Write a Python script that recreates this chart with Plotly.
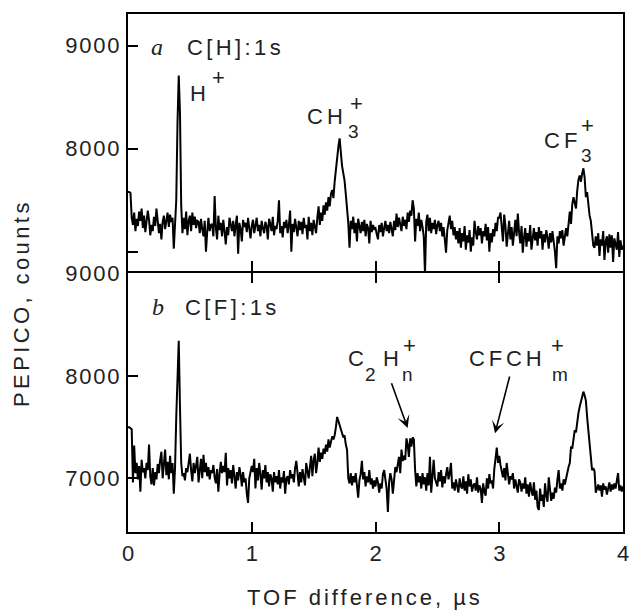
import plotly.graph_objects as go

# ---------------- data ----------------
tof_step_us = 0.01

counts_a = [
    7580, 7580, 7570, 7330, 7260, 7380, 7200, 7320, 7250, 7390,
    7300, 7420, 7230, 7350, 7190, 7280, 7400, 7310, 7160, 7260,
    7200, 7340, 7250, 7420, 7300, 7180, 7270, 7120, 7290, 7350,
    7220, 7330, 7380, 7240, 7360, 7290, 7330, 7030, 7250, 7500,
    8250, 8710, 8350, 7450, 7180, 7330, 7220, 7390, 7160, 7300,
    7350, 7200, 7380, 7260, 7340, 7230, 7300, 7290, 7180, 7320,
    7220, 7150, 7300, 7000, 7190, 7330, 7200, 7260, 7270, 7150,
    7540, 7230, 7120, 7350, 7210, 7280, 7150, 7310, 7200, 7070,
    7240, 7160, 7330, 7280, 7200, 7300, 7150, 7260, 7350, 6980,
    7280, 7220, 7100, 7310, 7240, 7280, 7190, 7330, 7250, 7130,
    7250, 7310, 7180, 7280, 7330, 7200, 7260, 7150, 7300, 7230,
    7180, 7290, 7250, 7120, 7320, 7270, 7200, 7340, 7160, 7250,
    7220, 7300, 7500, 7180, 7250, 7140, 7290, 7230, 7310, 7180,
    7260, 7400, 7000, 7270, 7190, 7320, 7240, 7150, 7300, 7210,
    7290, 7170, 7330, 7230, 7260, 7120, 7340, 7200, 7280, 7160,
    7310, 7230, 7180, 7330, 7440, 7260, 7380, 7300, 7450, 7360,
    7480, 7400, 7530, 7440, 7560, 7600, 7520, 7680, 7820, 7900,
    8020, 8100, 7950, 7830, 7760, 7690, 7560, 7450, 7280, 7040,
    7300, 7220, 7340, 7180, 7280, 7100, 7320, 7250, 7180, 7290,
    7200, 7310, 7150, 7270, 7230, 7080, 7300, 7190, 7260, 7220,
    7230, 7170, 7120, 7260, 7190, 7280, 7150, 7230, 7300, 7200,
    7260, 7180, 7290, 7220, 7150, 7300, 7210, 7370, 7240, 7330,
    7280, 7200, 7340, 7250, 7310, 7220, 7380, 7290, 7400, 7350,
    7500, 7420, 7100, 7320, 7250, 7380, 7200, 7310, 7240, 7150,
    6780, 7290, 7360, 7200, 7330, 7180, 7280, 7220, 7310, 7170,
    7260, 7300, 7200, 7280, 7150, 7240, 7120, 6990, 7210, 7280,
    7350, 7220, 7300, 7160, 7240, 7120, 7200, 7080, 7230, 7040,
    7180, 7100, 7250, 7020, 7160, 7090, 7210, 7000, 7140, 7060,
    7300, 7190, 7120, 7250, 7160, 7230, 7080, 7200, 7150, 7270,
    7110, 7240, 7000, 7180, 7090, 7220, 7150, 7280, 7200, 7330,
    7330, 7380, 7230, 7100, 7360, 7250, 7050, 7180, 7300, 7120,
    7240, 7060, 7200, 7310, 7150, 7370, 7190, 7080, 7250, 6990,
    7140, 7230, 7050, 7180, 7100, 7260, 7020, 7170, 7230, 7110,
    7190, 7060, 7240, 7130, 7200, 7020, 7170, 7090, 7210, 7140,
    7030, 7180, 7090, 7200, 7120, 7000, 6840, 7150, 7080, 7200,
    7130, 7210, 7060, 7180, 7230, 7150, 7310, 7390, 7270, 7460,
    7530, 7480, 7420, 7590, 7700, 7740, 7680, 7760, 7810, 7720,
    7530, 7580, 7440, 7350, 7300, 7180, 7060, 7040, 7150, 7060,
    7180, 6960, 7120, 7060, 7200, 6920, 7100, 7150, 6990, 7170,
    7040, 7160, 6900, 7130, 7080, 7020, 7190, 6950, 7110, 7020,
    7060,
]

counts_b = [
    7500, 7500, 7490, 7480, 6960, 7320, 7050, 7150, 6990, 7120,
    6870, 7180, 7060, 7100, 7000, 7150, 7080, 7330, 7020, 6940,
    7100, 6930, 7060, 6990, 7140, 7050, 7180, 7260, 7000, 7120,
    7280, 7030, 7160, 6990, 7220, 7050, 7150, 6850, 7100, 7600,
    8100, 8345, 7700, 7150, 7020, 7050, 6980, 7100, 7060, 7130,
    7240, 7080, 6970, 7150, 7050, 7120, 7210, 6960, 7080, 7190,
    7000, 7230, 7060, 7150, 7020, 7110, 6990, 7080, 7050, 7130,
    7010, 6950, 7090, 6870, 7040, 7160, 7050, 7120, 7060, 7250,
    6930, 7100, 7000, 7080, 6950, 7130, 7020, 6900, 7060, 6980,
    7110, 7040, 6920, 7060, 6960, 7000, 6850, 6760, 7000, 7080,
    7120, 7060, 7190, 6900, 7100, 6980, 7150, 7040, 6890, 7080,
    7000, 7130, 6960, 7060, 6920, 7040, 7000, 6870, 7060, 6960,
    7020, 6940, 7080, 6900, 7010, 6960, 7070, 6850, 7000, 7020,
    6940, 7080, 7000, 7040, 6960, 7100, 7170, 7050, 6920, 7060,
    6960, 7090, 7010, 6930, 7150, 7060, 7000, 7110, 7220, 7020,
    7180, 7240, 7050, 7150, 7300, 7160, 7250, 7190, 7290, 7240,
    7330, 7260, 7380, 7300, 7360, 7410, 7380, 7420, 7500, 7600,
    7560, 7510, 7460, 7440, 7400, 7420, 7330, 7280, 7000, 6950,
    7050, 6930, 7020, 6960, 7050, 6900, 6810, 6980, 7040, 7170,
    6990, 7060, 6920, 7020, 6960, 7080, 6940, 7000, 6900, 6980,
    6920, 7010, 6960, 6860, 6950, 6900, 7040, 7080, 6980, 6900,
    6670, 6960, 7050, 6990, 6850, 6960, 7110, 7060, 7140, 7210,
    7050, 7280, 7170, 7220, 7180, 7390, 7330, 7210, 7390, 7310,
    7400, 7380, 7080, 6920, 7050, 6960, 7020, 6900, 7050, 6940,
    7010, 6880, 7050, 6930, 7210, 6860, 7020, 7180, 7000, 6950,
    6920, 7060, 6970, 7080, 6910, 7020, 6950, 7040, 7110, 6990,
    7050, 7150, 6900, 6960, 6880, 6990, 6940, 6860, 7000, 6920,
    6900, 7020, 6880, 6970, 6850, 7040, 6920, 6990, 6870, 6930,
    6950, 6880, 7010, 6860, 6930, 6900, 6760, 6950, 6870, 6830,
    7000, 6900, 7040, 6950, 6980, 6900, 7090, 7200, 7300, 7150,
    7220, 7130, 7060, 7010, 7100, 6980, 7150, 7060, 6940, 7020,
    6990, 7050, 6900, 6990, 6930, 6860, 6990, 6960, 6870, 6950,
    6900, 7010, 6850, 6940, 6820, 6960, 6880, 6830, 6960, 6790,
    6880, 6720, 6690, 6900, 6780, 6840, 6720, 6950, 6830, 6770,
    7010, 6900, 6780, 6860, 6800, 6910, 6860, 6990, 7080, 6900,
    6950, 6880, 6990, 6940, 7010, 7050, 7110, 7150, 7310, 7290,
    7390, 7470, 7450, 7560, 7640, 7700, 7760, 7800, 7847, 7810,
    7760, 7600, 7480, 7300, 7180, 7080, 7100, 7070, 6860, 6900,
    6940, 6880, 6930, 6820, 6950, 6890, 6920, 6840, 6900, 6960,
    6870, 6940, 6890, 6950, 6900, 6960, 7050, 6880, 6930, 6870,
    6920,
]

tof_a = [round(i * tof_step_us, 2) for i in range(len(counts_a))]
tof_b = [round(i * tof_step_us, 2) for i in range(len(counts_b))]

x_ticks = [0, 1, 2, 3, 4]
x_ticklabels = ["0", "1", "2", "3", "4"]
y_ticks = [7000, 8000, 9000]
y_ticklabels_a = ["", "8000", "9000"]
y_ticklabels_b = ["7000", "8000", "9000"]

panel_a_title = "C[H]:1s"
panel_b_title = "C[F]:1s"
x_title = "TOF difference, µs"
y_title = "PEPICO, counts"

# ---------------- styling ----------------
FONT = "Liberation Sans, Arial, Helvetica, sans-serif"
SERIF = "Liberation Serif, Times New Roman, serif"
TXT = "#222222"


def sp(s, ls=3.4):
    """letter-spaced text without trailing space after the last glyph"""
    if not s:
        return ""
    if len(s) == 1:
        return s
    return f'<span style="letter-spacing:{ls}px">{s[:-1]}</span>{s[-1]}'


fig = go.Figure()
fig.add_trace(go.Scatter(x=tof_a, y=counts_a, mode="lines",
                         line=dict(color="black", width=2),
                         xaxis="x2", yaxis="y2", showlegend=False))
fig.add_trace(go.Scatter(x=tof_b, y=counts_b, mode="lines",
                         line=dict(color="black", width=2),
                         xaxis="x", yaxis="y", showlegend=False))

PLOT_H = 518.0
bot_top = (532 - 273) / PLOT_H
top_bot = (532 - 271) / PLOT_H
tickfont = dict(family=FONT, size=22, color=TXT)
common = dict(ticks="inside", ticklen=10, tickwidth=2, tickcolor="black",
              showline=True, linewidth=2, linecolor="black",
              showgrid=False, zeroline=False, automargin=False,
              ticklabeloverflow="allow")

fig.update_layout(
    width=629, height=610,
    margin=dict(l=128, r=6, t=14, b=78),
    paper_bgcolor="white", plot_bgcolor="white",
    font=dict(family=FONT, color=TXT),
    xaxis=dict(domain=[0, 1], range=[0, 4], anchor="y",
               tickvals=x_ticks, ticktext=x_ticklabels, mirror="ticks",
               tickfont=tickfont, ticklabelstandoff=1, **common),
    yaxis=dict(domain=[0, bot_top], range=[6475, 9007], anchor="x",
               tickvals=y_ticks, ticktext=[sp(t, 1.8) for t in y_ticklabels_b],
               mirror=True, tickfont=tickfont, ticklabelstandoff=2, **common),
    xaxis2=dict(domain=[0, 1], range=[0, 4], anchor="y2", matches="x",
                tickvals=x_ticks, showticklabels=False, mirror=True, **common),
    yaxis2=dict(domain=[top_bot, 1], range=[6813, 9308], anchor="x2",
                tickvals=y_ticks, ticktext=[sp(t, 1.8) for t in y_ticklabels_a],
                mirror=True, tickfont=tickfont, ticklabelstandoff=2, **common),
)

ann = []


def txt(x, y, text, ref, size=22, family=FONT, xanchor="center"):
    xr, yr = ref
    ann.append(dict(x=x, y=y, xref=xr, yref=yr, text=text, showarrow=False,
                    font=dict(family=family, size=size, color=TXT),
                    xanchor=xanchor, yanchor="middle"))


A = ("x2", "y2")
B = ("x", "y")

# panel a labels
txt(0.238, 8990, "<i>a</i>", A, size=24, family=SERIF)
txt(0.46, 8981, sp(panel_a_title), A, xanchor="left")
txt(0.562, 8538, "H", A)
txt(0.731, 8690, "+", A, size=22)
txt(1.592, 8311, sp("CH", 4), A)
txt(1.826, 8165, "3", A, size=19)
txt(1.846, 8441, "+", A, size=22)
txt(3.495, 8084, sp("CF", 4), A)
txt(3.705, 7939, "3", A, size=19)
txt(3.717, 8230, "+", A, size=22)

# panel b labels
txt(0.246, 8677, "<i>b</i>", B, size=24, family=SERIF)
txt(0.444, 8668, sp(panel_b_title), B, xanchor="left")
txt(1.842, 8176, "C", B)
txt(1.956, 8010, "2", B, size=19)
txt(2.125, 8176, "H", B)
txt(2.259, 8010, "n", B, size=19)
txt(2.275, 8296, "+", B, size=22)
txt(3.051, 8176, sp("CFCH", 3.8), B)
txt(3.487, 8010, "m", B, size=19)
txt(3.471, 8303, "+", B, size=22)

# arrows
for (hx, hy, tx, ty) in [(2.260, 7492, 2.125, 7944), (2.966, 7440, 3.087, 8010)]:
    ann.append(dict(x=hx, y=hy, xref="x", yref="y", ax=tx, ay=ty,
                    axref="x", ayref="y", text="", showarrow=True,
                    arrowhead=3, arrowsize=1.3, arrowwidth=1.6,
                    arrowcolor="black", standoff=0))

# axis titles
ann.append(dict(x=(363 - 128) / 495, y=(532 - 597) / PLOT_H, xref="paper", yref="paper",
                text=sp(x_title, 3.0), showarrow=False,
                font=dict(family=FONT, size=22, color=TXT),
                xanchor="center", yanchor="middle"))
ann.append(dict(x=(21 - 128) / 495, y=(532 - 305) / PLOT_H, xref="paper", yref="paper",
                text=sp(y_title, 3.4), showarrow=False, textangle=-90,
                font=dict(family=FONT, size=22, color=TXT),
                xanchor="center", yanchor="middle"))

fig.update_layout(annotations=ann)
fig.write_html("out.html")
